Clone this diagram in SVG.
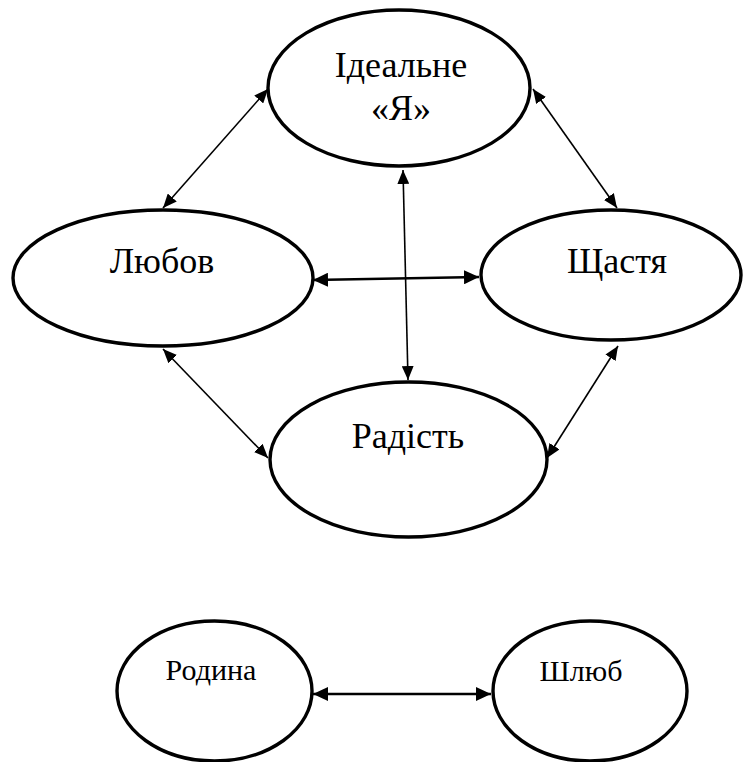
<svg xmlns="http://www.w3.org/2000/svg" width="744" height="762" viewBox="0 0 744 762">
  <style>
    .node { fill: #ffffff; stroke: #000000; stroke-width: 3.4; }
    .label { font-family: 'Liberation Serif', 'DejaVu Serif', 'Noto Serif', serif; fill: #000000; text-anchor: middle; }
    .big { font-size: 36px; }
    .small { font-size: 30px; }
    .link { stroke: #000000; stroke-width: 1.6; fill: none; marker-start: url(#head); marker-end: url(#head); }
    .link-bold { stroke: #000000; stroke-width: 2.6; fill: none; marker-start: url(#headBig); marker-end: url(#headBig); }
  </style>
  <defs>
    <marker id="head" markerUnits="userSpaceOnUse" viewBox="0 0 14 12" refX="14" refY="6" markerWidth="14" markerHeight="12" orient="auto-start-reverse">
      <path d="M0,0 L14,6 L0,12 Z" fill="#000000"/>
    </marker>
    <marker id="headBig" markerUnits="userSpaceOnUse" viewBox="0 0 15 14" refX="15" refY="7" markerWidth="15" markerHeight="14" orient="auto-start-reverse">
      <path d="M0,0 L15,7 L0,14 Z" fill="#000000"/>
    </marker>
  </defs>

  <rect width="744" height="762" fill="#ffffff"/>

  <!-- connectors -->
  <g id="connectors">
    <line class="link" x1="163" y1="208" x2="268" y2="89"/>
    <line class="link" x1="533" y1="89" x2="617" y2="208"/>
    <line class="link" x1="163" y1="349" x2="268" y2="458"/>
    <line class="link" x1="618" y1="346" x2="547" y2="458"/>
    <line class="link" x1="403" y1="170" x2="408" y2="380"/>
    <line class="link-bold" x1="313" y1="280" x2="479" y2="277"/>
    <line class="link-bold" x1="313" y1="694" x2="491" y2="694"/>
  </g>

  <!-- nodes -->
  <g id="ideal">
    <ellipse class="node" cx="399" cy="88" rx="131" ry="78"/>
    <text class="label big" x="401" y="77" font-family="Liberation Serif, serif">Ідеальне</text>
    <text class="label big" x="401" y="120" font-family="Liberation Serif, serif">«Я»</text>
  </g>
  <g id="love">
    <ellipse class="node" cx="163" cy="278" rx="150" ry="68"/>
    <text class="label big" x="162" y="273">Любов</text>
  </g>
  <g id="happiness">
    <ellipse class="node" cx="611" cy="275" rx="130" ry="65"/>
    <text class="label big" x="617" y="273">Щастя</text>
  </g>
  <g id="joy">
    <ellipse class="node" cx="408.5" cy="459.5" rx="138.5" ry="77.5"/>
    <text class="label big" x="408" y="448">Радість</text>
  </g>
  <g id="family">
    <ellipse class="node" cx="214.5" cy="691" rx="97.5" ry="70"/>
    <text class="label small" x="211" y="680">Родина</text>
  </g>
  <g id="marriage">
    <ellipse class="node" cx="590" cy="691" rx="97" ry="70"/>
    <text class="label small" x="581" y="681">Шлюб</text>
  </g>
</svg>
